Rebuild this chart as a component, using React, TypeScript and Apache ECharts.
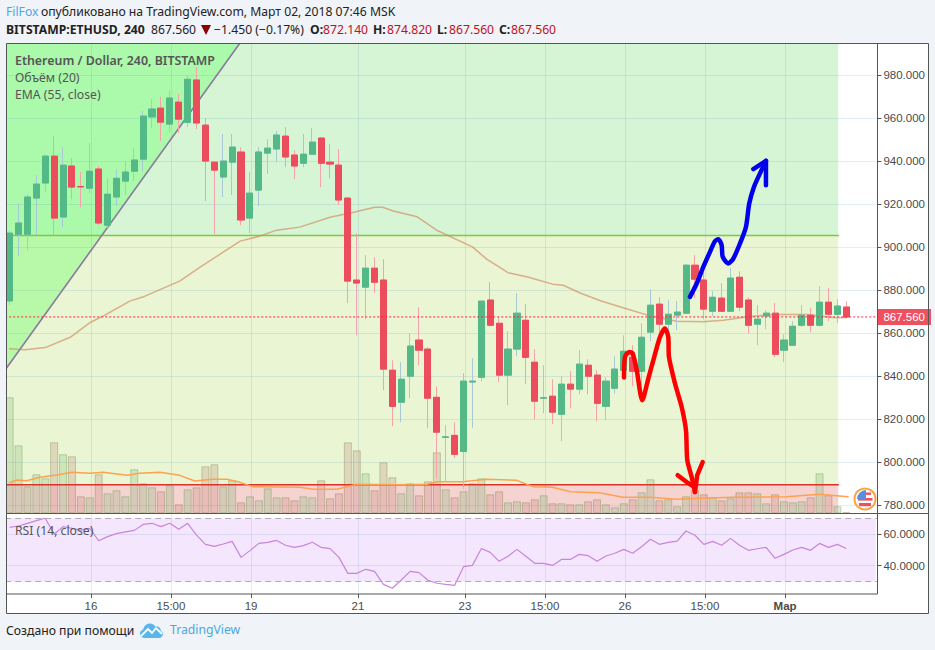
import React, { useEffect, useRef } from "react";
import * as echarts from "echarts";

const categories = Array.from({ length: 98 }, (_, i) => String(i));

const opens = [875,906,906,922.8,929.8,942.3,914,937.7,928.2,927.4,936.3,910.2,923.3,930.7,935.3,940.9,960.5,964.6,957.2,967.4,958,977.7,956.7,939.5,932.6,939.5,944.2,913.5,926.5,943.7,945.6,951.6,942.8,939,943.2,950.7,939.5,938.1,922.8,884.7,881.4,890.2,884.7,842.8,827.9,840,856.8,852.6,830.2,811.6,812.5,805,837.3,839.5,875.4,864.6,840.5,852.6,866,846.5,829.8,830.7,822.3,836.3,834,845.1,840.5,826,834.4,842.8,848.8,842.3,860.5,873.5,864.2,868.4,869.3,891.6,884.7,870.2,876.3,870.2,886,875.4,864.2,868,869.3,852.1,854.4,863.7,868.4,863.7,874.4,868.8,872.14];
const closes = [906.5,911.2,923.3,929.3,942.3,913.5,938.1,927.9,928,935.3,911.2,924.6,932,934.9,940.5,960.9,964.2,958.1,969.3,959.5,978,957.7,940,935.8,940,946.5,912.6,925.1,944.2,946,952.1,941.9,937.7,943.2,948.8,939,938.6,921.9,884.2,883.3,890.2,883.7,843.3,826,838.6,854,852.1,829.8,814,811.8,803.7,837.7,837.7,874.9,863.7,840.5,852.6,869.3,848.8,828.4,830,823.3,836.3,834,845.6,840,827.4,837.7,843.3,851.6,842.3,858.1,873,864.2,868.8,869.8,891.6,885.1,871.2,876.7,870.2,885.6,872.1,863.7,866.5,869.3,850.2,856.8,863.2,868.4,863.7,874.4,868.8,872.6,867.56];
const lows = [873,895.8,898.6,905.6,925.6,905.6,909.3,922.3,918.6,925.1,910.2,909,919.1,924.2,930.7,935.3,955.3,949.3,953.5,953,955.8,954.9,921.4,906,923.3,924.2,910.2,906.5,919.1,934,939.5,937.2,931.6,937.2,943,927.9,932,919.5,874,859,866.5,878.6,833.5,816.8,818.6,829.8,845.1,815.8,792.6,791,801.9,787.4,816,837.7,863,837.2,826.5,849.3,836.3,820,822.8,817.7,809.8,825,831.6,831.6,819,819.6,832,839,835.3,832,856.3,860.5,860,861.4,869,876.3,866.5,868,870,870,870.2,860,854.4,861.9,848.8,846.5,854,863,860.5,863,865.6,864.7,867.56];
const highs = [907.5,920.3,924.5,933.5,943,951.6,946.5,941.4,934.9,948.4,937.7,932,936.3,940,946,963.3,968.8,969.8,973,971.2,980,983.7,960,939.5,952.6,952.6,946.5,934.9,946.5,950.2,954,955.8,945,952.6,955.3,951,947.9,945.6,923.3,906.5,896.3,895.3,894.4,847.4,846.5,860,872,853.5,835.3,817.2,818.6,841.4,848.4,875,883.7,867.5,860.9,878.6,873.5,852.6,845.1,838.6,840,842.3,852.1,847.9,842.8,839.5,849.3,859,854.4,864.7,880.5,876.7,875.4,874.9,892,896.3,889.3,879.5,883.3,890.2,888.8,876.7,873,870.7,874,859.5,865.6,873,871.6,881.9,881,875.8,874.82];

const volumes = [116,68,27,39,35,71,59,57,17,16,39,20,23,17,44,30,26,22,28,9,24,26,47,49,27,33,11,17,13,25,16,16,13,17,16,33,15,20,71,63,40,23,51,36,20,30,18,32,61,24,16,22,30,35,19,22,11,12,11,14,18,10,10,9,9,12,14,9,6,10,14,21,34,13,14,7,17,23,19,16,13,15,21,21,20,10,19,12,11,12,16,40,18,7,1];

const rsiValues = [64.4,65.3,67,68.7,70.2,60,64.9,63.8,62.7,63.8,55.9,58.5,60.4,61.5,62.5,66.3,67,64.9,67,63.2,67,59.5,53.6,52.3,53.8,55.5,45.3,49.6,54.2,54.9,56.1,53,51.7,52.8,54.9,51.7,50.9,45.3,35.1,35.1,37.7,36.4,28.1,25.6,30.9,36.4,35.6,30.7,28.8,28.1,27.5,39.4,40.2,51,48.5,42.8,46,50.4,46,41.5,41.5,40.2,44,44,47.2,46.4,42.8,46.2,47.9,50.4,47.9,52.1,56.8,53.6,54.9,55.7,62.1,59.4,53.6,55.5,53,57.4,53,49.8,50.8,51.7,44.7,47.2,50,51.7,49.8,54.2,51.7,53.6,51];

const emaPrice: [number, number][] = [[0,852.8],[1.7,852.3],[4,853.3],[6.8,858.1],[9.1,865.1],[10.7,868.4],[13.5,874.9],[15.2,877.2],[19.1,884.2],[21.4,890.7],[25.9,902.8],[28.1,905.1],[30,907.9],[32.6,909.3],[36,913.9],[38.8,916.3],[41,918.5],[41.9,918.5],[43.1,916.8],[45.8,914.1],[48.1,907.6],[52,900.1],[53.6,894.4],[56,888.1],[58.1,886.2],[61,882.8],[62.2,882.3],[64.1,878.7],[66.3,875.2],[69.1,871.6],[71.6,868.5],[74.9,865.5],[77.9,865.3],[80.2,866],[82.9,867.6],[85.8,868.7],[89.6,868.7],[92.5,867.3],[94,867.2]];
const emaVolume: [number, number][] = [[0,30.6],[0.8,33.3],[1.9,32.6],[3.4,36],[5.3,38.3],[7,41],[9,40],[10.5,41],[13.2,38],[14.6,40],[16.9,41],[19.1,38],[20.8,32.3],[22.8,34],[24.4,34],[25.9,31],[27.3,26.6],[32.6,26],[34.1,24],[36.8,24],[39,29],[43.5,28.6],[46.9,29],[48,31.6],[50.9,31.6],[53.6,34],[57,33],[58.8,26.6],[61,26],[63,21.6],[66.3,20.6],[68.9,16],[71.9,16],[75,14],[77.6,15],[81.3,16],[87.3,16.6],[91,19],[94.2,16.6]];

const blueCurve: [number, number][] = [[76.44,876.9],[77.2,883.1],[77.94,890.8],[78.69,897.8],[79.25,902.8],[79.62,903.7],[80,900.9],[80.12,895.5],[80.75,892.4],[81.31,894.7],[82.06,901.7],[82.73,909.4],[83.1,920.3],[83.63,928],[84.31,934.3],[84.98,940.1]];
const blueHead: [number, number][] = [[83.56,936.3],[84.98,940.1],[84.98,928.8]];
const redCurve: [number, number][] = [[69.03,839.4],[69.14,849],[69.62,851.3],[70,850.6],[70.46,842.8],[71.08,828.8],[71.76,838.9],[72.32,847.4],[73.08,858.3],[73.63,862.2],[74,858.3],[74.08,849],[74.76,836.6],[75.51,825.7],[75.99,814.9],[76.14,800.9],[76.63,793.2],[77,786.2]];
const redHeadLeft: [number, number][] = [[75.06,794],[76.07,790.8],[77,788.4]];
const redHeadRight: [number, number][] = [[77.87,800.1],[77.26,794],[77,786.2]];

const trendLine: [number, number][] = [[-0.33,843.9],[25.8,994.4]];
const trendWedge: [number, number][] = [[-0.5,843.9],[-0.33,843.9],[25.8,994.4],[-0.5,994.4]];
const resistanceLevel = 905.4;
const supportLevel = 789.6;
const zoneEnd = 93.1;
const lastPrice = 867.56;

const priceTicks = [780,800,820,840,860,880,900,920,940,960,980];
const rsiTicks = [40,60];
const rsiBounds = [30,70];
const timeTickPositions = [9.14,18.13,27.12,39.14,51.16,60.15,69.13,78.12,87.12];
const timeTickLabels = ["16","15:00","19","21","23","15:00","26","15:00","Мар"];

const PAGE = "#f0f3f7";
const FRAME = "#555555";
const UI = "'Noto Sans', sans-serif";
const AXIS = "'Liberation Sans', Arial, sans-serif";
const UI_SIZE = "12.2px";

echarts.graphic.registerShape(
  "tvCloud",
  echarts.graphic.extendPath(
    "M5 15C2 15 0 13 0 10.5C0 8.5 1.5 7 3.2 6.5C4 3 6.5 0.5 10 0.5C12.5 0.5 14.5 1.8 15.5 3.8C16.2 3.5 17 3.3 17.8 3.5C20 4 21 6 20.8 7.8C22.3 8.5 23 10 23 11C23 13.2 21.2 15 19 15Z",
    {}
  )
);

const zip = <T,>(a: T[], f: (v: T, i: number) => any) => a.map(f);

const txt = (text: string, x: number, y: number, fill: string, font: string) => ({
  type: "text" as const,
  x,
  y,
  z: 60,
  silent: true,
  style: { text, fill, font, textVerticalAlign: "middle" },
});

function zoneSeries(name: string, lo: number, hi: number, fill: string, x0: number, x1: number, xIdx: number, yIdx: number) {
  return {
    name,
    type: "custom",
    xAxisIndex: xIdx,
    yAxisIndex: yIdx,
    z: -1,
    silent: true,
    clip: true,
    encode: { x: [0, 1], y: [2, 3] },
    data: [[x0, x1, lo, hi]],
    renderItem: (_: any, api: any) => {
      const a = api.coord([api.value(0), api.value(3)]);
      const b = api.coord([api.value(1), api.value(2)]);
      return { type: "rect", shape: { x: a[0], y: a[1], width: b[0] - a[0], height: b[1] - a[1] }, style: { fill } };
    },
  };
}

function pathLine(name: string, data: [number, number][], color: string, width: number, z: number, yIdx = 0, xIdx = 1, extra: any = {}) {
  return {
    name,
    type: "line",
    xAxisIndex: xIdx,
    yAxisIndex: yIdx,
    data,
    z,
    showSymbol: false,
    symbol: "none",
    silent: true,
    lineStyle: { color, width, cap: "round", join: "round" },
    ...extra,
  };
}

export default function App() {
  const ref = useRef<HTMLDivElement>(null);
  useEffect(() => {
    const chart = echarts.init(ref.current!, undefined, { renderer: "svg" });
    const splitLine = { show: true, lineStyle: { color: "rgba(88,142,190,0.16)", width: 1 } };
    const timeFormatter = (v: number) => {
      const i = timeTickPositions.indexOf(v);
      const s = timeTickLabels[i] ?? "";
      return s === "Мар" ? `{b|${s}}` : s;
    };
    chart.setOption({
      animation: false,
      backgroundColor: PAGE,
      grid: [
        { left: 5.2, width: 872.2, top: 44, height: 469.3 },
        { left: 5.2, width: 872.2, top: 514, height: 80 },
      ],
      xAxis: [
        { type: "category", gridIndex: 0, data: categories, show: false, boundaryGap: true, axisLine: { onZero: false } },
        {
          type: "value", gridIndex: 0, min: -0.5, max: 97.5,
          axisLine: { show: false, onZero: false },
          axisTick: { show: false, customValues: timeTickPositions },
          axisLabel: { show: false, customValues: timeTickPositions },
          splitLine,
        },
        { type: "category", gridIndex: 1, data: categories, show: false, boundaryGap: true, axisLine: { onZero: false } },
        {
          type: "value", gridIndex: 1, min: -0.5, max: 97.5, position: "bottom",
          axisLine: { show: false, onZero: false },
          axisTick: { show: true, length: 4, lineStyle: { color: FRAME }, customValues: timeTickPositions },
          axisLabel: {
            show: true, customValues: timeTickPositions, formatter: timeFormatter, margin: 6, hideOverlap: false,
            color: "#4a4a4a", fontFamily: AXIS, fontSize: 11.5,
            rich: { b: { fontWeight: "bold", color: "#4a4a4a", fontFamily: AXIS, fontSize: 11.5 } },
          },
          splitLine,
        },
      ],
      yAxis: [
        {
          type: "value", gridIndex: 0, position: "right", min: 776.28, max: 994.42, scale: true,
          axisLine: { show: false, onZero: false },
          axisTick: { show: true, length: 4, lineStyle: { color: FRAME }, customValues: priceTicks },
          axisLabel: {
            customValues: priceTicks, formatter: (v: number) => v.toFixed(3), margin: 6,
            color: "#4a4a4a", fontFamily: AXIS, fontSize: 11.5,
          },
          splitLine,
        },
        { type: "value", gridIndex: 0, show: false, min: 0, max: 469.3, splitLine: { show: false }, axisLine: { onZero: false } },
        {
          type: "value", gridIndex: 1, position: "right", min: 21.97, max: 72.93, scale: true,
          axisLine: { show: false, onZero: false },
          axisTick: { show: true, length: 4, lineStyle: { color: FRAME }, customValues: rsiTicks },
          axisLabel: {
            customValues: rsiTicks, formatter: (v: number) => v.toFixed(4), margin: 6,
            color: "#4a4a4a", fontFamily: AXIS, fontSize: 11.5,
          },
          splitLine,
        },
      ],
      series: [
        zoneSeries("Upper zone", resistanceLevel, 994.42, "#d5f5d5", -0.5, zoneEnd, 1, 0),
        zoneSeries("Middle zone", supportLevel, resistanceLevel, "#e9f5d3", -0.5, zoneEnd, 1, 0),
        zoneSeries("Lower zone", 776.28, supportLevel, "#f5d3d0", -0.5, zoneEnd, 1, 0),
        zoneSeries("RSI band", rsiBounds[0], rsiBounds[1], "#f4e6fd", -0.5, 97.3, 3, 2),
        {
          name: "Wedge",
          type: "custom",
          xAxisIndex: 1,
          yAxisIndex: 0,
          z: -0.5,
          silent: true,
          clip: true,
          encode: { x: 0, y: 1 },
          data: trendWedge,
          renderItem: (p: any, api: any) => {
            if (p.dataIndex !== 0) return null;
            return {
              type: "polygon",
              shape: { points: trendWedge.map((c) => api.coord(c)) },
              style: { fill: "rgba(108,255,108,0.4)" },
            };
          },
        },
        {
          name: "Объём",
          type: "bar",
          xAxisIndex: 0,
          yAxisIndex: 1,
          barWidth: 8,
          z: 1,
          silent: true,
          data: zip(volumes, (v, i) => ({
            value: v,
            itemStyle: closes[i] >= opens[i]
              ? { color: "rgba(93,165,86,0.2)", borderColor: "rgba(90,150,80,0.35)", borderWidth: 1 }
              : { color: "rgba(173,100,96,0.2)", borderColor: "rgba(130,120,60,0.35)", borderWidth: 1 },
          })),
        },
        pathLine("Upper level", [[-0.5, resistanceLevel], [zoneEnd, resistanceLevel]], "#7fcb3c", 1.5, 1.2),
        pathLine("Lower level", [[-0.5, supportLevel], [zoneEnd, supportLevel]], "#d8322a", 1.5, 1.2),
        pathLine("Trend line", trendLine, "#8a7b9c", 1.6, 1.3),
        pathLine("EMA (55, close)", emaPrice, "rgba(208,130,90,0.62)", 1.5, 1.4),
        pathLine("Volume EMA", emaVolume, "#ffa14e", 1.4, 1.4, 1),
        {
          name: "Wicks",
          type: "candlestick",
          xAxisIndex: 0,
          yAxisIndex: 0,
          barWidth: 6.6,
          z: 2,
          silent: true,
          itemStyle: { color: "#53b987", color0: "#eb4d5c", borderColor: "#a8c8d8", borderColor0: "#f5a3ab", borderWidth: 1 },
          data: zip(opens, (o, i) => [o, closes[i], lows[i], highs[i]]),
        },
        {
          name: "ETHUSD",
          type: "candlestick",
          xAxisIndex: 0,
          yAxisIndex: 0,
          barWidth: 6.6,
          z: 3,
          silent: true,
          itemStyle: { color: "#53b987", color0: "#eb4d5c", borderColor: "#53b987", borderColor0: "#eb4d5c", borderWidth: 1 },
          data: zip(opens, (o, i) => {
            const c = closes[i];
            return [o, c, Math.min(o, c), Math.max(o, c)];
          }),
          markLine: {
            silent: true,
            symbol: "none",
            z: 6,
            lineStyle: { color: "rgba(0,0,0,0)", width: 0 },
            label: {
              show: true, position: "end", distance: 0, formatter: () => lastPrice.toFixed(3),
              color: "#ffffff", backgroundColor: "#ef5060", padding: [2, 6, 2, 6], lineHeight: 12,
              fontFamily: AXIS, fontSize: 11.5,
            },
            data: [{ yAxis: lastPrice }],
          },
        },
        pathLine("Last price", [[-0.5, lastPrice], [97.5, lastPrice]], "#ff2040", 1, 6, 0, 1, {
          lineStyle: { color: "#ff2040", width: 1, type: [2, 2] },
        }),
        pathLine("Blue path", blueCurve, "#0000ee", 4.5, 7, 0, 1, { smooth: 0.25 }),
        pathLine("Blue head", blueHead, "#0000ee", 4.5, 7),
        pathLine("Red path", redCurve, "#ff0000", 4.5, 7, 0, 1, { smooth: 0.25 }),
        pathLine("Red head left", redHeadLeft, "#ff0000", 4.5, 7),
        pathLine("Red head right", redHeadRight, "#ff0000", 4.5, 7),
        {
          name: "RSI (14, close)",
          type: "line",
          xAxisIndex: 2,
          yAxisIndex: 2,
          data: rsiValues,
          z: 4,
          symbol: "none",
          silent: true,
          lineStyle: { color: "#c785dc", width: 1.2 },
          markLine: {
            silent: true,
            symbol: "none",
            label: { show: false },
            lineStyle: { color: "#b5a9b8", type: [6, 4], width: 1 },
            data: rsiBounds.map((b) => ({ yAxis: b })),
          },
        },
      ],
      graphic: [
        { type: "rect", z: -5, silent: true, shape: { x: 6.5, y: 43.5, width: 922, height: 570 }, style: { fill: "#ffffff" } },
        { type: "rect", z: 50, silent: true, shape: { x: 0, y: 40, width: 6, height: 580 }, style: { fill: PAGE } },
        { type: "rect", z: 51, silent: true, shape: { x: 6.5, y: 43.5, width: 922, height: 570 }, style: { fill: "none", stroke: FRAME, lineWidth: 1 } },
        { type: "line", z: 51, silent: true, shape: { x1: 6.5, y1: 513.5, x2: 928, y2: 513.5 }, style: { stroke: FRAME, lineWidth: 1 } },
        { type: "line", z: 51, silent: true, shape: { x1: 6.5, y1: 594, x2: 877.5, y2: 594 }, style: { stroke: FRAME, lineWidth: 1 } },
        { type: "line", z: 51, silent: true, shape: { x1: 877.5, y1: 43.5, x2: 877.5, y2: 594 }, style: { stroke: FRAME, lineWidth: 1 } },

        txt("FilFox", 6, 11.5, "#4aa8e8", `${UI_SIZE} ${UI}`),
        txt("опубликовано на TradingView.com, Март 02, 2018 07:46 MSK", 41, 11.5, "#222222", `${UI_SIZE} ${UI}`),
        txt("BITSTAMP:ETHUSD, 240", 6, 29.5, "#222222", `bold ${UI_SIZE} ${UI}`),
        txt("867.560", 151, 29.5, "#222222", `${UI_SIZE} ${UI}`),
        { type: "polygon", z: 60, silent: true, shape: { points: [[201, 25], [211, 25], [206, 35]] }, style: { fill: "#8b0000" } },
        txt("−1.450 (−0.17%)", 214, 29.5, "#222222", `${UI_SIZE} ${UI}`),
        txt("O:", 310, 29.5, "#222222", `bold ${UI_SIZE} ${UI}`),
        txt("872.140", 323, 29.5, "#c1121a", `${UI_SIZE} ${UI}`),
        txt("H:", 373, 29.5, "#222222", `bold ${UI_SIZE} ${UI}`),
        txt("874.820", 387, 29.5, "#c1121a", `${UI_SIZE} ${UI}`),
        txt("L:", 437, 29.5, "#222222", `bold ${UI_SIZE} ${UI}`),
        txt("867.560", 449, 29.5, "#c1121a", `${UI_SIZE} ${UI}`),
        txt("C:", 499, 29.5, "#222222", `bold ${UI_SIZE} ${UI}`),
        txt("867.560", 511, 29.5, "#c1121a", `${UI_SIZE} ${UI}`),

        txt("Ethereum / Dollar, 240, BITSTAMP", 15, 60.5, "#555555", `600 12.4px ${UI}`),
        txt("Объём (20)", 15, 77.5, "#555555", `${UI_SIZE} ${UI}`),
        txt("EMA (55, close)", 15, 94.5, "#555555", `${UI_SIZE} ${UI}`),
        txt("RSI (14, close)", 15, 530, "#555555", `${UI_SIZE} ${UI}`),

        txt("Создано при помощи", 6, 630, "#222222", `${UI_SIZE} ${UI}`),
        { type: "tvCloud", z: 60, x: 140, y: 623, silent: true, style: { fill: "#5ab6ea" } },
        { type: "polyline", z: 61, silent: true, shape: { points: [[141, 636], [148, 629], [152, 633], [156, 628], [162, 634]] }, style: { stroke: "#ffffff", fill: "none", lineWidth: 1.8 } },
        txt("TradingView", 170, 629.5, "#4aa8e0", `${UI_SIZE} ${UI}`),

        { type: "circle", z: 60, silent: true, shape: { cx: 865, cy: 499, r: 10.5 }, style: { fill: "#ffffff", stroke: "#f7a440", lineWidth: 2 } },
        { type: "rect", z: 61, silent: true, shape: { x: 858, y: 498, width: 14.5, height: 2.6 }, style: { fill: "#ef5060" } },
        { type: "rect", z: 61, silent: true, shape: { x: 859, y: 503, width: 12, height: 3.2 }, style: { fill: "#ef5060" } },
        { type: "rect", z: 61, silent: true, shape: { x: 865, y: 492.5, width: 6, height: 2.4 }, style: { fill: "#ef5060" } },
        { type: "sector", z: 62, silent: true, shape: { cx: 866, cy: 499, r0: 0, r: 9, startAngle: Math.PI, endAngle: Math.PI * 1.5 }, style: { fill: "#5a8fdc" } },
      ],
    });
    return () => chart.dispose();
  }, []);
  return <div ref={ref} style={{ position: "fixed", left: 0, top: 0, width: 935, height: 650 }} />;
}
